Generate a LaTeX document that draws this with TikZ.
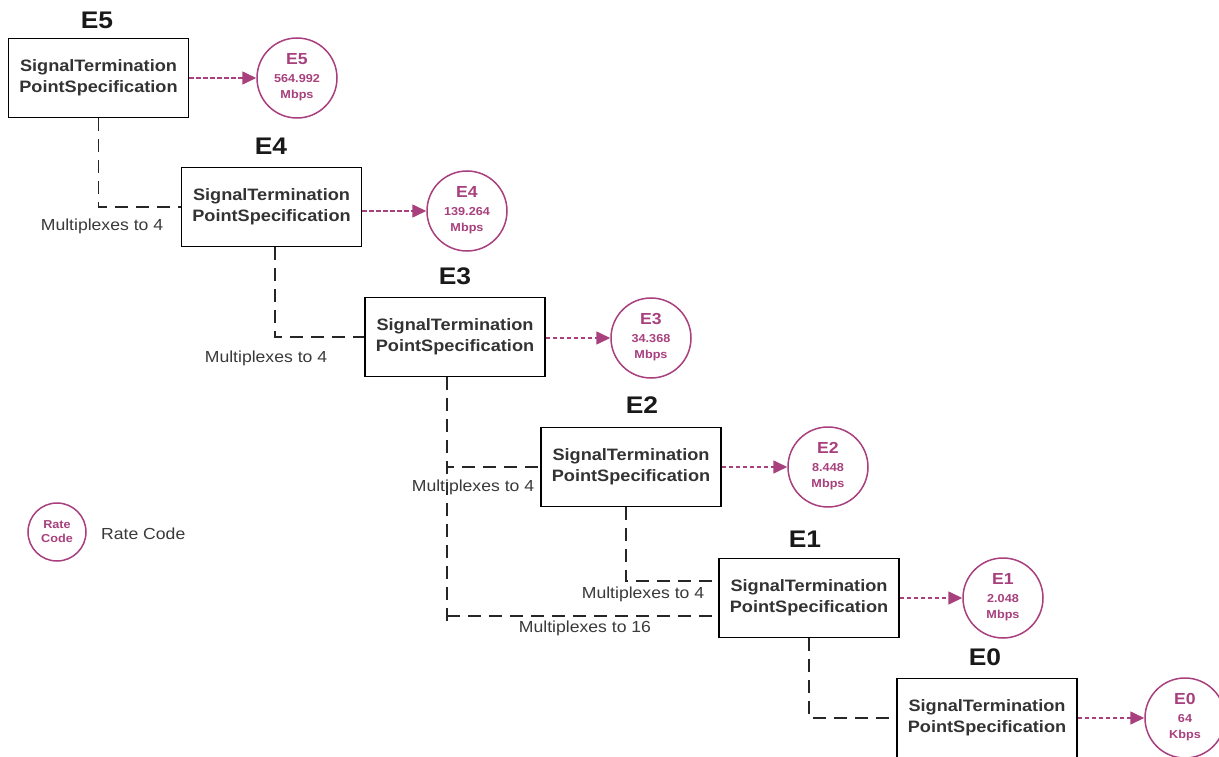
\documentclass[tikz,border=0pt]{standalone}
\usepackage{fontspec}
\setmainfont[FakeStretch=1.1]{Liberation Sans}
\usetikzlibrary{arrows.meta,calc}
\definecolor{rate}{HTML}{A8407E}
\definecolor{boxtext}{HTML}{333333}
\definecolor{labtext}{HTML}{3A3A3A}
\newcommand{\ratetext}[3]{\begin{tabular}{@{}c@{}}{\fontsize{16}{16}\selectfont\bfseries #1}\\[2pt]#2\\#3\end{tabular}}
\begin{document}
\begin{tikzpicture}[x=1pt,y=-1pt,
  stpbox/.style={draw=black,line width=1.6pt,minimum width=180pt,minimum height=79pt,align=center,
    font=\fontsize{16.5}{21}\selectfont\bfseries,text=boxtext,inner sep=0pt},
  title/.style={font=\fontsize{24}{26}\selectfont\bfseries,text=black!90},
  ratec/.style={draw=rate,line width=1.5pt,circle,minimum size=80pt,inner sep=0pt,align=center,text=rate,
    font=\fontsize{11.5}{16}\selectfont\bfseries},
  mux/.style={draw=black!85,line width=1.3pt,dash pattern=on 13pt off 8pt},
  rarr/.style={draw=rate,line width=1.6pt,dash pattern=on 4.5pt off 2.5pt,-{Triangle[length=14pt,width=13pt]}},
  muxlab/.style={font=\fontsize{16}{18}\selectfont,text=labtext,inner sep=1pt}
]
\useasboundingbox (0,0) rectangle (1219,757);
\fill[white] (0,0) rectangle (1219,757);

% boxes
\node[stpbox] (b5) at (98.5,78) {SignalTermination\\PointSpecification};
\node[stpbox] (b4) at (271.5,207) {SignalTermination\\PointSpecification};
\node[stpbox] (b3) at (455,337) {SignalTermination\\PointSpecification};
\node[stpbox] (b2) at (631,467) {SignalTermination\\PointSpecification};
\node[stpbox] (b1) at (809,598) {SignalTermination\\PointSpecification};
\node[stpbox] (b0) at (987,718) {SignalTermination\\PointSpecification};

% titles
\node[title] (t5) at (97,20) {E5};
\node[title] (t4) at (271,146) {E4};
\node[title] (t3) at (455,276) {E3};
\node[title] (t2) at (642,405) {E2};
\node[title] (t1) at (805,539) {E1};
\node[title] (t0) at (985,657) {E0};

% rate circles
\node[ratec] (c5) at (297,78) {\ratetext{E5}{564.992}{Mbps}};
\node[ratec] (c4) at (467,211) {\ratetext{E4}{139.264}{Mbps}};
\node[ratec] (c3) at (651,338) {\ratetext{E3}{34.368}{Mbps}};
\node[ratec] (c2) at (828,467) {\ratetext{E2}{8.448}{Mbps}};
\node[ratec] (c1) at (1003,598) {\ratetext{E1}{2.048}{Mbps}};
\node[ratec] (c0) at (1185,718) {\ratetext{E0}{64}{Kbps}};

% rate arrows
\draw[rarr] (b5.east) -- (c5.west);
\draw[rarr] (b4.east |- c4.west) -- (c4.west);
\draw[rarr] (b3.east |- c3.west) -- (c3.west);
\draw[rarr] (b2.east) -- (c2.west);
\draw[rarr] (b1.east) -- (c1.west);
\draw[rarr] (b0.east) -- (c0.west);

% multiplex connectors
\draw[mux] (b5.south) |- (b4.west);
\draw[mux] ([xshift=3.5pt]b4.south) |- (b3.west);
\coordinate (j3) at ([xshift=-8pt]b3.south);
\draw[mux] (j3) |- (b2.west);
\coordinate (j3e) at ($(j3)+(0,246)$);
\draw[mux] (j3) -- (j3e);
\coordinate (b1lo) at ([yshift=-18pt]b1.west);
\coordinate (b1hi) at ([yshift=17pt]b1.west);
\draw[mux] (j3 |- b1lo) -- (b1lo);
\draw[mux] ([xshift=-5pt]b2.south) |- (b1hi);
\draw[mux] (b1.south) |- (b0.west);

% multiplex labels
\node[muxlab] (m54) at (102,226) {Multiplexes to 4};
\node[muxlab] (m43) at (266,358) {Multiplexes to 4};
\node[muxlab] (m32) at (473,487) {Multiplexes to 4};
\node[muxlab] (m21) at (643,594) {Multiplexes to 4};
\node[muxlab] (m31) at (585,628) {Multiplexes to 16};

% legend
\node[draw=rate,line width=1.5pt,circle,minimum size=58pt,inner sep=0pt,align=center,text=rate,
  font=\fontsize{11.5}{14}\selectfont\bfseries] (leg) at (57,532) {Rate\\Code};
\node[muxlab,anchor=west] (legt) at (100,534) {Rate Code};
\end{tikzpicture}
\end{document}
